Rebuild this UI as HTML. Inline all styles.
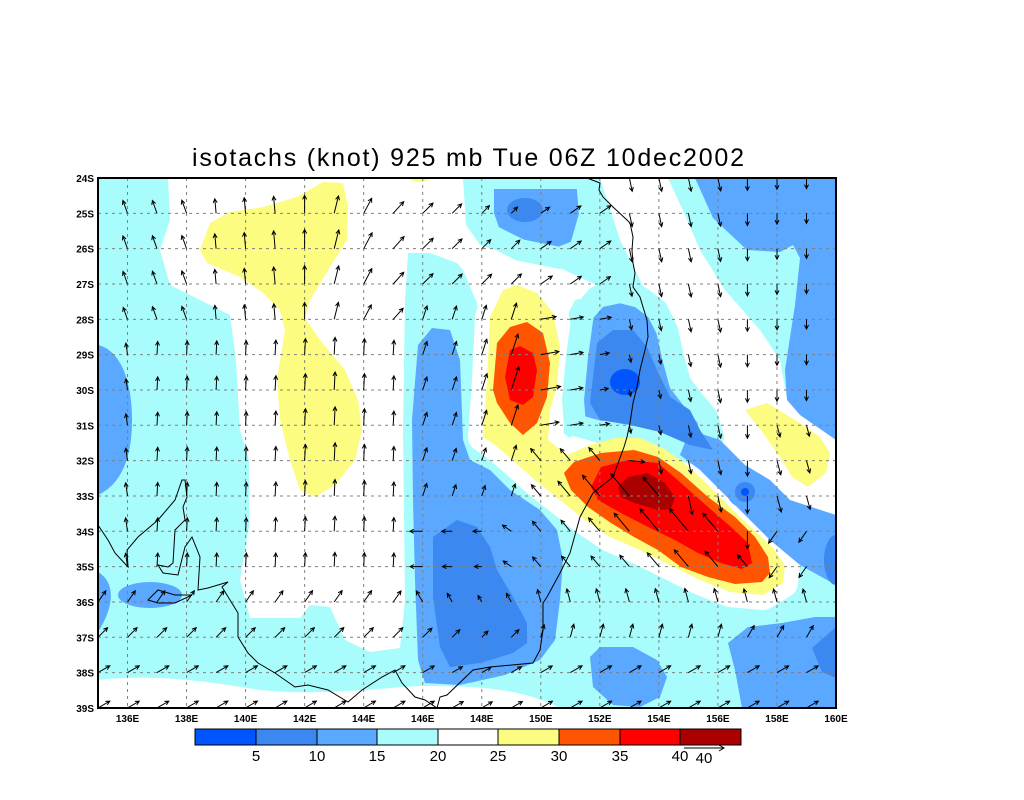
<!DOCTYPE html>
<html><head><meta charset="utf-8"><style>
html,body{margin:0;padding:0;background:#fff;width:1024px;height:800px;overflow:hidden}
svg{display:block}
text{font-family:"Liberation Sans",sans-serif}
</style></head><body>
<svg id="s" width="1024" height="800" viewBox="0 0 1024 800" xmlns="http://www.w3.org/2000/svg">
<defs><clipPath id="cp"><rect x="98" y="178" width="738" height="530"/></clipPath></defs>
<text x="468" y="166" font-size="25" text-anchor="middle" textLength="552">isotachs (knot) 925 mb Tue 06Z 10dec2002</text>
<g clip-path="url(#cp)">
<rect x="98" y="178" width="738" height="530" fill="#a8fcfc"/>
<g fill="#fff">
<polygon points="168,178 463,178 466,225 480,245 520,258 560,268 590,282 610,292 575,300 565,320 562,360 560,420 560,445 490,440 480,403 480,337 477,303 463,270 457,263 430,253 408,253 405,300 403,430 405,600 400,648 370,652 345,640 330,607 310,605 300,618 250,618 240,580 249,527 249,460 240,430 236,360 230,315 170,285 160,250 170,220"/>
<polygon points="600,178 668,178 685,215 700,250 725,290 760,330 780,360 787,400 810,420 836,445 836,530 800,525 770,500 740,470 710,440 690,410 672,370 660,320 640,280 620,240"/>
<path d="M98,680 C150,674 200,680 260,690 C320,696 380,688 420,686 C480,686 520,688 560,708 L98,708Z"/>
</g>
<g fill="#fff" stroke="#fff" stroke-width="30" stroke-linejoin="round">
<polygon points="483,437 487,380 490,317 503,290 517,285 537,293 553,313 560,347 557,387 550,410 548,440 567,455 590,445 615,438 640,438 663,448 683,462 703,480 720,497 740,517 757,533 773,548 785,565 783,583 763,595 730,592 700,580 670,565 640,550 610,537 585,520 560,500 537,482 515,462 495,445"/>
<polygon points="745,410 767,403 800,423 820,437 830,453 826,473 808,487 792,477 780,457 763,433"/>
</g>
<g fill="#5aa8ff" stroke="#a8fcfc" stroke-width="22" stroke-linejoin="round">
<polygon points="577,357 583,313 597,297 620,292 640,297 657,310 667,330 673,357 680,383 693,400 707,417 713,437 700,455 680,450 660,437 640,430 600,432 575,425 573,400"/>
<polygon points="483,178 587,178 590,215 580,250 560,258 520,250 490,235 483,215"/>
</g>
<g fill="#5aa8ff">
<polygon points="695,178 836,178 836,440 800,415 787,400 785,370 795,305 800,258 793,245 780,252 747,250 713,218"/>
<polygon points="412,420 418,345 432,328 450,330 460,360 463,440 470,460 490,470 510,490 540,510 557,530 563,560 560,600 555,640 540,660 505,675 460,685 425,683 418,660 415,580 413,500"/>
<polygon points="590,657 600,647 633,647 657,660 667,677 660,697 640,707 613,705 593,687"/>
<polygon points="728,643 748,627 782,623 815,617 836,617 836,708 742,708 735,670"/>
<polygon points="690,430 720,440 745,465 770,480 790,500 836,515 836,585 800,565 770,540 745,515 720,490 700,470 680,455"/>
<path d="M98,345 C120,350 132,380 132,420 C132,460 120,485 98,495Z"/>
<ellipse cx="150" cy="595" rx="32" ry="13"/>
<path d="M98,572 C112,580 118,600 98,632Z"/>
<ellipse cx="745" cy="492" rx="18" ry="16"/>
</g>
<g fill="#3a88f0">
<ellipse cx="525" cy="210" rx="18" ry="12"/>
<polygon points="590,403 597,343 613,330 633,330 647,347 657,370 670,397 690,410 700,430 713,450 690,445 660,432 630,425 600,420"/>
<polygon points="433,537 457,520 477,527 490,547 497,570 513,597 527,623 527,643 513,653 480,663 450,667 440,647 433,597"/>
<polygon points="812,648 836,627 836,678 822,672"/>
<ellipse cx="836" cy="560" rx="12" ry="25"/>
<ellipse cx="745" cy="492" rx="10" ry="10"/>
</g>
<g fill="#0055ff">
<ellipse cx="625" cy="382" rx="15" ry="13"/>
<ellipse cx="745" cy="492" rx="4" ry="4"/>
</g>
<g fill="#fcfc80">
<polygon points="483,437 487,380 490,317 503,290 517,285 537,293 553,313 560,347 557,387 550,410 548,440 567,455 590,445 615,438 640,438 663,448 683,462 703,480 720,497 740,517 757,533 773,548 785,565 783,583 763,595 730,592 700,580 670,565 640,550 610,537 585,520 560,500 537,482 515,462 495,445"/>
<polygon points="745,410 767,403 800,423 820,437 830,453 826,473 808,487 792,477 780,457 763,433"/>
<polygon points="200,250 210,223 230,212 263,207 297,197 323,182 343,183 348,207 347,240 330,267 310,300 305,318 320,340 345,370 358,400 362,430 355,460 335,485 315,497 300,490 290,460 280,420 277,380 285,330 280,310 263,293 240,277 207,263"/>
<ellipse cx="420" cy="178" rx="10" ry="4"/>
</g>
<g fill="#ff5500">
<polygon points="493,390 497,343 510,327 527,322 543,333 550,363 547,397 537,423 523,435 510,423 497,403"/>
<polygon points="564,473 574,462 601,453 634,450 658,457 681,473 708,497 735,517 755,537 768,557 770,573 762,582 735,584 708,577 681,567 658,550 634,537 611,523 588,507 571,490"/>
</g>
<g fill="#ff0000">
<polygon points="505,377 510,350 520,346 533,353 537,370 533,397 523,405 510,400"/>
<polygon points="591,487 601,467 628,460 658,463 681,483 708,507 731,527 748,543 752,563 742,569 721,563 698,553 675,540 648,527 621,513 598,500"/>
</g>
<polygon fill="#aa0000" points="618,487 628,477 648,473 665,483 675,497 671,509 658,510 634,503 621,497"/>
<g id="grid" stroke="#808080" stroke-width="1" stroke-dasharray="3,4"></g>
<g fill="none" stroke="#000" stroke-width="1">
<polyline points="587,178 600,183 599,190 603,197 613,207 627,220 630,223 633,237 632,250 633,263 635,273 633,287 640,297 643,307 647,320 648,337 645,350 640,370 637,387 633,403 630,423 627,437 624,447 613,477 593,493 580,517 570,553 560,573 547,597 543,603 543,630 540,650 533,663 490,667 473,670 447,695 440,697 437,708"/>
<polyline points="98,525 108,540 115,553 128,567 127,550 138,537 158,520 175,500 182,480 185,480 187,497 183,507 185,520 175,530 173,563 168,567 158,565 163,573 178,575 185,547 192,537 200,557 198,590 208,588 228,582 222,587 238,613 238,637 248,653 258,663 275,673 295,687 308,685 328,690 348,702 362,690 382,677 395,670 402,683 415,697 425,700 437,708"/>
<polygon points="148,600 158,590 175,595 192,595 175,603 158,603"/>
</g>
<g id="arr" stroke="#000" stroke-width="1" fill="none"></g>
</g>
<rect x="98" y="178" width="738" height="530" fill="none" stroke="#000" stroke-width="2"/>
<g id="lab" font-size="10" font-weight="bold"></g>
<g stroke="#000" stroke-width="1">
<rect x="195" y="729" width="61" height="16" fill="#0055ff"/>
<rect x="256" y="729" width="61" height="16" fill="#3a88f0"/>
<rect x="317" y="729" width="60" height="16" fill="#5aa8ff"/>
<rect x="377" y="729" width="61" height="16" fill="#a8fcfc"/>
<rect x="438" y="729" width="60" height="16" fill="#ffffff"/>
<rect x="498" y="729" width="61" height="16" fill="#fcfc80"/>
<rect x="559" y="729" width="61" height="16" fill="#ff5500"/>
<rect x="620" y="729" width="60" height="16" fill="#ff0000"/>
<rect x="680" y="729" width="61" height="16" fill="#aa0000"/>
</g>
<g font-size="15" text-anchor="middle">
<text x="256" y="761">5</text><text x="317" y="761">10</text><text x="377" y="761">15</text>
<text x="438" y="761">20</text><text x="498" y="761">25</text><text x="559" y="761">30</text>
<text x="620" y="761">35</text><text x="680" y="761">40</text>
<text x="704" y="763">40</text>
</g>
<g stroke="#000" fill="none"><line x1="684" y1="748" x2="724" y2="748"/><polyline points="719,745 724,748 719,751"/></g>
</svg>
<script>
(function(){
var NS="http://www.w3.org/2000/svg";
function X(lon){return 98+(lon-135)*29.52;}
function Y(lat){return 178+(lat-24)*35.33;}
var g=document.getElementById('grid'),lab=document.getElementById('lab'),arr=document.getElementById('arr');
function el(p,t,a){var e=document.createElementNS(NS,t);for(var k in a)e.setAttribute(k,a[k]);p.appendChild(e);return e;}
for(var lon=136;lon<160;lon+=2){el(g,'line',{x1:X(lon),y1:178,x2:X(lon),y2:708});}
for(var lat=25;lat<39;lat++){el(g,'line',{x1:98,y1:Y(lat),x2:836,y2:Y(lat)});}
for(var lat=24;lat<=39;lat++){var t=el(lab,'text',{x:94,y:Y(lat)+4,'text-anchor':'end'});t.textContent=lat+'S';}
for(var lon=136;lon<=160;lon+=2){var t=el(lab,'text',{x:X(lon),y:722,'text-anchor':'middle'});t.textContent=lon+'E';}
function G(lo,la,cx,cy,sx,sy){return Math.exp(-((lo-cx)*(lo-cx)/(2*sx*sx)+(la-cy)*(la-cy)/(2*sy*sy)));}
function spd(lo,la){
 var s=17+19*(G(lo,la,152.3,32.8,1,0.6)+G(lo,la,153.8,33.6,1,0.6)+G(lo,la,155.3,34.4,1,0.6))*0.9
 +14*G(lo,la,149.2,30,0.8,1.3)+7*G(lo,la,142.5,26,2,1.5)+6*G(lo,la,143,31,1,2)+6*G(lo,la,157.5,32.8,1,0.8)
 -8*G(lo,la,148,35.5,1,2)-9*G(lo,la,153,30,1.2,1.5)-6*G(lo,la,149,25,1,0.7)-5*G(lo,la,159,27,1.5,4)-5*G(lo,la,135,30,1,1.5);
 return Math.max(s,5);}
function dir(lo,la){
 if(la>=38)return 60;
 if(la>=37)return lo<150?45:(lo<157?15:30);
 if(la>=36)return lo<146?35:(lo<150?-30:-15);
 if(lo>=149.5&&lo<=157.5&&la>=31.5&&(la-31.5)>(lo-151)*0.5-0.5)return -40;
 if(lo>=157.5&&la>=31&&la<34)return 165;
 if(lo>=157.5&&la>=34)return 215;
 if(lo<=145.5){
   if(la<=28){if(lo<139)return -20; if(lo<142)return -5; return (lo-142)*14;}
   return lo<137?-8:3;}
 if(lo<150&&la<=27)return 45;
 if(lo<149.5&&la<=33)return 18;
 if(lo<150&&la>33)return lo<148.5?-90:-55;
 if(lo<153&&la<=31)return la<28?55:80;
 if(lo<153.5&&la>31)return 95;
 return lo>=157?180:168;
}
for(var la=24;la<=39;la++)for(var lo=135;lo<=159;lo++){
 if(lo==135&&la<35)continue;
 var s=spd(lo,la),d=dir(lo,la)*Math.PI/180,L=s*0.8;
 var x0=X(lo),y0=Y(la),dx=Math.sin(d)*L,dy=-Math.cos(d)*L;
 var x1=x0+dx,y1=y0+dy,ux=dx/L,uy=dy/L,h=4;
 var ax=x1-h*ux+h*0.5*uy,ay=y1-h*uy-h*0.5*ux,bx=x1-h*ux-h*0.5*uy,by=y1-h*uy+h*0.5*ux;
 el(arr,'path',{d:'M'+x0.toFixed(1)+','+y0.toFixed(1)+'L'+x1.toFixed(1)+','+y1.toFixed(1)+'M'+ax.toFixed(1)+','+ay.toFixed(1)+'L'+x1.toFixed(1)+','+y1.toFixed(1)+'L'+bx.toFixed(1)+','+by.toFixed(1)});
}
})();
</script>
</body></html>
